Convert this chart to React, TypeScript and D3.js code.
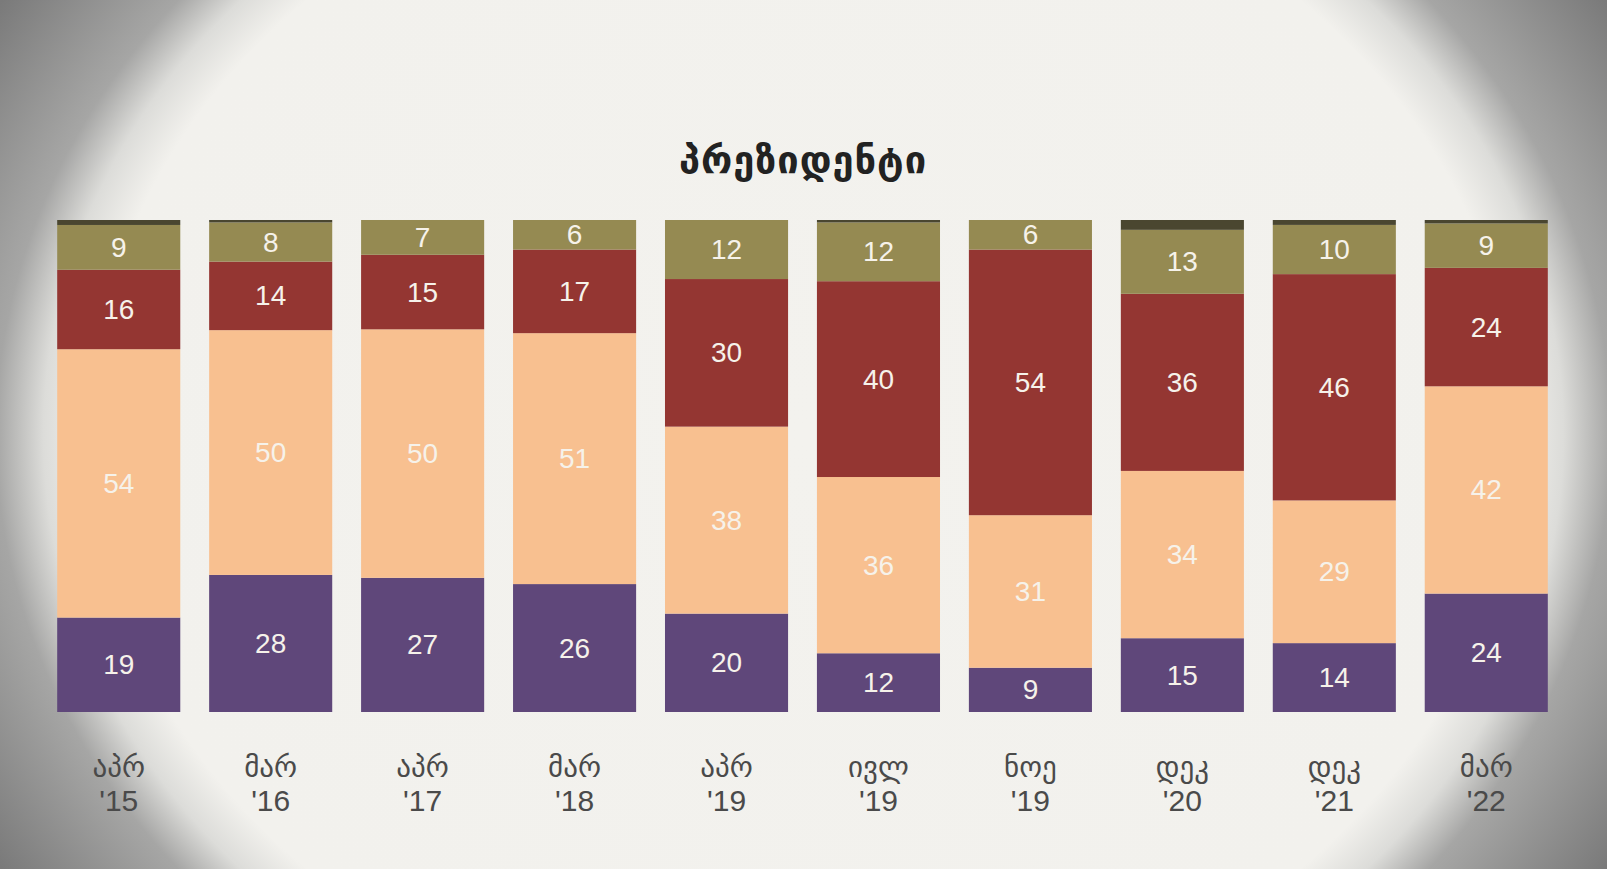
import * as d3 from 'd3'

// survey waves
const waves = ['აპრ\n\'15', 'მარ\n\'16', 'აპრ\n\'17', 'მარ\n\'18', 'აპრ\n\'19', 'ივლ\n\'19', 'ნოე\n\'19', 'დეკ\n\'20', 'დეკ\n\'21', 'მარ\n\'22']

// stacked from the bottom up
const purple = [19, 28, 27, 26, 20, 12, 9, 15, 14, 24]
const peach = [54, 50, 50, 51, 38, 36, 31, 34, 29, 42]
const red = [16, 14, 15, 17, 30, 40, 54, 36, 46, 24]
const olive = [9, 8, 7, 6, 12, 12, 6, 13, 10, 9]
const rest = [1, 0.5, 0, 0, 0, 0.5, 0, 2, 1, 0.7]

const keys = ['purple', 'peach', 'red', 'olive', 'rest']
const colors: Record<string, string> = {
  purple: '#5f477a',
  peach: '#f8c090',
  red: '#943632',
  olive: '#958a52',
  rest: '#4a4630'
}

const W = 1607
const H = 869

const rows = waves.map((w, i) => ({
  wave: w,
  purple: purple[i],
  peach: peach[i],
  red: red[i],
  olive: olive[i],
  rest: rest[i]
}))

export default function App() {
  const x = d3.scaleBand().domain(waves).range([42, 1563]).paddingInner(0.19).paddingOuter(0.1)
  const y = d3.scaleLinear().domain([0, 1]).range([712, 220])

  const series = d3
    .stack<any>()
    .keys(keys)
    .offset(d3.stackOffsetExpand)(rows)

  return (
    <svg width={W} height={H} style={{ position: 'absolute', left: 0, top: 0 }}>
      <defs>
        <radialGradient
          id="vignette"
          gradientUnits="userSpaceOnUse"
          cx={W / 2}
          cy={H / 2}
          r={950}
          gradientTransform={`translate(${W / 2},${H / 2}) scale(1,0.85) translate(${-W / 2},${-H / 2})`}
        >
          <stop offset="0" stopColor="#f3f2ee" />
          <stop offset="0.75" stopColor="#f2f1ed" />
          <stop offset="0.8" stopColor="#dcdcd9" />
          <stop offset="0.85" stopColor="#a6a6a5" />
          <stop offset="1" stopColor="#7a7a7a" />
        </radialGradient>
      </defs>
      <rect width={W} height={H} fill="url(#vignette)" />

      <text
        x={803}
        y={160}
        textAnchor="middle"
        dominantBaseline="central"
        fontFamily="DejaVu Sans, sans-serif"
        fontWeight="bold"
        fontSize={38}
        letterSpacing={1}
        fill="#222"
      >
        პრეზიდენტი
      </text>

      {series.map(s => (
        <g key={s.key} fill={colors[s.key]}>
          {s.map((d, i) => {
            const x0 = x(waves[i]) || 0
            const y0 = y(d[1])
            const h = y(d[0]) - y(d[1])
            const v = (rows[i] as any)[s.key] as number
            return (
              <g key={i}>
                <rect x={x0} y={y0} width={x.bandwidth()} height={Math.max(0, h)} />
                {s.key !== 'rest' && (
                  <text
                    x={x0 + x.bandwidth() / 2}
                    y={y0 + h / 2}
                    textAnchor="middle"
                    dominantBaseline="central"
                    fontFamily="Liberation Sans, Arial, sans-serif"
                    fontSize={28}
                    fill="#f6f2ea"
                  >
                    {v}
                  </text>
                )}
              </g>
            )
          })}
        </g>
      ))}

      {waves.map(w => {
        const [mon, yr] = w.split('\n')
        const cx = (x(w) || 0) + x.bandwidth() / 2
        return (
          <g key={w} fill="#4a4a4a" textAnchor="middle">
            <text x={cx} y={767} dominantBaseline="central" fontFamily="DejaVu Sans, sans-serif" fontSize={29}>
              {mon}
            </text>
            <text x={cx} y={800} dominantBaseline="central" fontFamily="Liberation Sans Narrow, Liberation Sans, sans-serif" fontSize={30}>
              {yr}
            </text>
          </g>
        )
      })}
    </svg>
  )
}
